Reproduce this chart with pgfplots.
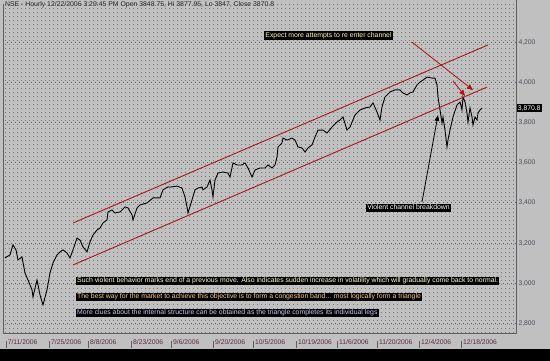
\documentclass[border=0pt]{standalone}
\usepackage{fontspec}
\setmainfont{Liberation Sans}
\usepackage{pgfplots}
\pgfplotsset{compat=1.18}
\usetikzlibrary{arrows.meta}
\definecolor{bg}{HTML}{C0C0C0}
\definecolor{dotc}{HTML}{7A7A7A}
\definecolor{gridd}{HTML}{606060}
\definecolor{ylab}{HTML}{504A60}
\definecolor{xlab}{HTML}{5A2A48}
\definecolor{chan}{HTML}{A81818}
\definecolor{arr}{HTML}{B01010}
\definecolor{cA}{HTML}{FFFFC8}
\definecolor{cB}{HTML}{FFC890}
\definecolor{cC}{HTML}{C8C8FF}
\definecolor{cE}{HTML}{FFFFB0}
\definecolor{brd}{HTML}{606060}
\newcommand{\tl}[1]{\textcolor{brd}{\vrule height 3.5bp depth 3.5bp width 0.7bp}\hspace{1.2bp}#1}
\begin{document}
\begin{tikzpicture}
\useasboundingbox (0,0) rectangle (550bp,361bp);
\fill[bg] (0,0) rectangle (550bp,361bp);
\fill[black] (0,0) rectangle (550bp,12bp);
\foreach \x in {5,9,...,513} {
  \draw[dotc, line width=1bp, dash pattern=on 1bp off 3bp] (\x bp,28bp) -- (\x bp,357bp);
}
\draw[brd, line width=0.9bp] (3bp,357bp) -- (3bp,28bp) -- (516bp,28bp) -- (516bp,361bp);
\begin{axis}[
  at={(3bp,28bp)}, anchor=south west,
  scale only axis, width=513bp, height=328bp,
  xmin=3, xmax=516, ymin=2752, ymax=4386,
  axis line style={draw=none},
  clip=false,
  tick style={draw=none},
  major tick length=0pt,
  ytick={2800,3000,...,4200},
  yticklabel pos=right,
  yticklabel style={anchor=west, inner sep=0pt, xshift=2.3bp, font=\fontsize{6.8}{7}\selectfont, text=ylab},
  /pgf/number format/1000 sep={,},
  /pgf/number format/assume math mode=true,
  ymajorgrids,
  major grid style={draw=gridd, line width=1bp, dash pattern=on 1bp off 3bp},
  xtick={5.7,49,88,131,171,213,253,296,337,377,419,461},
  xticklabels={{\tl{7/11/2006}},{\tl{7/25/2006}},{\tl{8/8/2006}},{\tl{8/23/2006}},{\tl{9/6/2006}},{\tl{9/20/2006}},{\tl{10/5/2006}},{\tl{10/19/2006}},{\tl{11/6/2006}},{\tl{11/20/2006}},{\tl{12/4/2006}},{\tl{12/18/2006}}},
  xticklabel style={anchor=west, inner sep=0pt, yshift=-11bp, font=\fontsize{6.8}{7}\selectfont, text=xlab},
]
\addplot[black, line width=0.9bp] coordinates {
(5,3126) (10,3141) (13,3191) (16,3166) (18,3116) (22,3131) (25,3051) (28,3016)
(32,2967) (33,2932) (37,3016) (40,2942) (43,2892) (47,2967) (50,3051) (53,3101)
(57,3141) (60,3156) (63,3166) (67,3151) (70,3126) (73,3166) (77,3225) (80,3215)
(83,3181) (87,3156) (90,3206) (93,3240) (97,3265) (100,3275) (103,3300) (107,3315)
(108,3355) (112,3365) (115,3350) (120,3355) (125,3380) (128,3375) (132,3340) (133,3315)
(137,3375) (140,3390) (147,3400) (153,3425) (160,3425) (163,3465) (168,3480)
(170,3479) (177,3484) (182,3474) (185,3430) (187,3380) (188,3350) (192,3415) (195,3465)
(198,3474) (202,3479) (203,3465) (207,3479) (210,3514) (212,3465) (213,3430) (215,3514)
(218,3549) (223,3554) (228,3549) (230,3529) (233,3599) (237,3589) (242,3589) (245,3599)
(248,3574) (252,3529) (255,3564) (260,3574) (265,3574) (268,3589) (272,3574) (275,3589)
(277,3629) (278,3679) (282,3699) (283,3723) (287,3713) (292,3723) (295,3713) (298,3679)
(302,3674) (305,3654) (308,3674) (312,3689) (315,3728) (318,3763) (323,3763) (327,3748)
(332,3778) (337,3803) (340,3813) (343,3828) (347,3763) (350,3778) (355,3838) (360,3863)
(365,3873) (370,3878) (373,3898) (377,3853) (380,3813) (382,3878) (385,3928) (390,3953)
(395,3963) (400,3963) (403,3948) (407,3938) (410,3948) (413,3953) (417,3988) (420,4002)
(423,4012) (427,4027) (432,4022) (435,4022) (437,3988) (438,3928) (440,3863) (442,3798)
(443,3828) (445,3763) (447,3679) (448,3714) (450,3763) (453,3828) (457,3888) (460,3903)
(462,3863) (463,3928) (465,3903) (467,3848) (468,3803) (470,3873) (472,3828) (473,3788)
(475,3828) (477,3813) (478,3848) (480,3863) (482,3873)
};
\addplot[chan, line width=0.9bp] coordinates {(73,3300) (488,4187)};
\addplot[chan, line width=0.9bp] coordinates {(73,3091) (487,3977)};
\draw[arr, line width=0.8bp, -{Triangle[length=6bp, width=5bp]}] (axis cs:412,4201) -- (axis cs:473,3962);
\draw[arr, line width=0.8bp, -{Triangle[length=6bp, width=5bp]}] (axis cs:453,4007) -- (axis cs:465,3933);
\draw[black, line width=0.8bp, -{Triangle[length=6bp, width=4.5bp]}] (axis cs:422,3405) -- (axis cs:438,3838);
\tikzset{box/.style={fill=black, inner xsep=1bp, inner ysep=0.8bp, text height=5.3bp, text depth=1.6bp, font=\fontsize{6.9}{7}\selectfont}}
\node[box, text=cA, anchor=west] at (axis cs:76,3011) {Such violent behavior marks end of a previous move. Also indicates sudden increase in volatility which will gradually come back to normal.};
\node[box, text=cB, anchor=west] at (axis cs:76,2932) {The best way for the market to achieve this objective is to form a congestion band... most logically form a triangle};
\node[box, text=cC, anchor=west] at (axis cs:76,2852) {More clues about the internal structure can be obtained as the triangle completes its individual legs};
\node[box, text=cE] at (axis cs:328.5,4234) {Expect more attempts to re enter channel};
\node[box, text=white] at (axis cs:408.5,3375) {Violent channel breakdown};
\node[fill=black, text=white, inner xsep=1bp, inner ysep=0.8bp, text height=5bp, text depth=1.5bp, anchor=west, font=\fontsize{6.8}{7}\selectfont] at (axis cs:516.7,3870.8) {3,870.8};
\end{axis}
\node[anchor=west, inner sep=0pt, font=\fontsize{6.9}{7}\selectfont, text=black!85] at (5bp,356bp) {NSE - Hourly 12/22/2006 3:29:45 PM Open 3848.75, Hi 3877.95, Lo 3847, Close 3870.8};
\end{tikzpicture}
\end{document}
